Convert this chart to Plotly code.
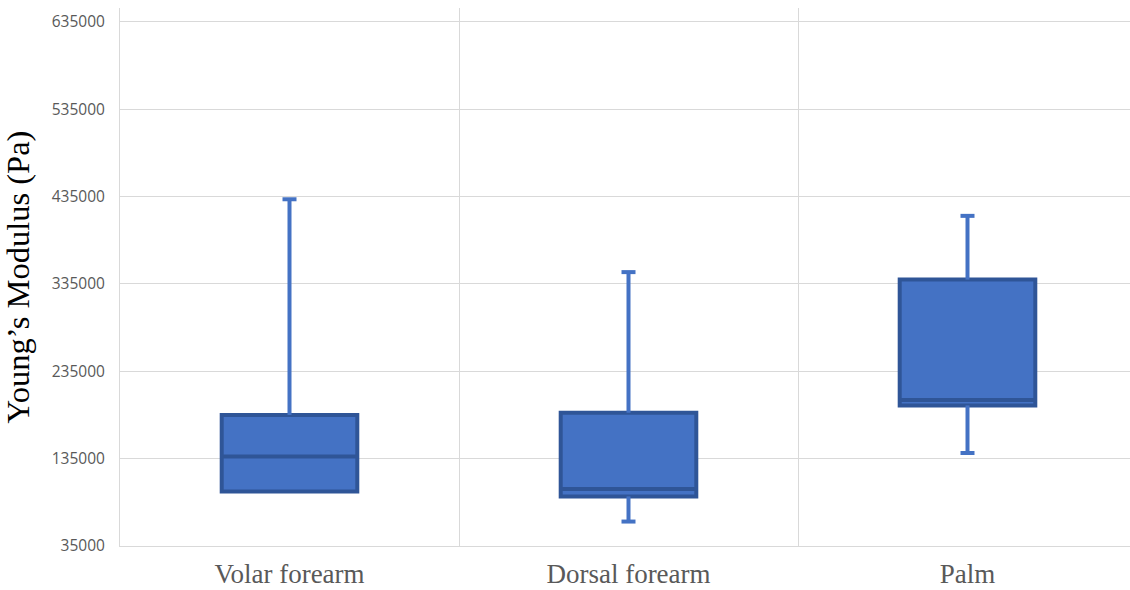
import plotly.graph_objects as go

categories = ["Volar forearm", "Dorsal forearm", "Palm"]
minimum = [97500, 63000, 141500]
q1 = [97500, 91800, 196000]
median = [137500, 100200, 202300]
q3 = [185000, 187700, 340000]
maximum = [432000, 348600, 413000]

y_ticks = [35000, 135000, 235000, 335000, 435000, 535000, 635000]

FILL = "#4472C4"
EDGE = "#2F5597"
WHISKER = "#4472C4"

fig = go.Figure()

fig.add_trace(go.Box(
    x=categories,
    q1=q1,
    median=median,
    q3=q3,
    lowerfence=q1,
    upperfence=q3,
    width=0.4,
    whiskerwidth=0,
    fillcolor=FILL,
    line=dict(color=EDGE, width=4),
    boxpoints=False,
    hoverinfo="skip",
    showlegend=False,
))

# whisker stems
stem_x, stem_y = [], []
for c, lo, a, b, hi in zip(categories, minimum, q1, q3, maximum):
    stem_x += [c, c, None]
    stem_y += [b, hi, None]
    if lo < a:
        stem_x += [c, c, None]
        stem_y += [a, lo, None]
fig.add_trace(go.Scatter(
    x=stem_x, y=stem_y, mode="lines",
    line=dict(color=WHISKER, width=4),
    hoverinfo="skip", showlegend=False,
))

# whisker caps
cap_x, cap_y = [], []
for c, lo, a, hi in zip(categories, minimum, q1, maximum):
    cap_x.append(c)
    cap_y.append(hi)
    if lo < a:
        cap_x.append(c)
        cap_y.append(lo)
fig.add_trace(go.Scatter(
    x=cap_x, y=cap_y, mode="markers",
    marker=dict(symbol="line-ew", size=10, line=dict(color=WHISKER, width=4)),
    hoverinfo="skip", showlegend=False,
))

fig.update_layout(
    width=1130, height=590,
    margin=dict(l=120, r=0, t=8, b=44),
    paper_bgcolor="white", plot_bgcolor="white",
    showlegend=False,
)

fig.update_xaxes(
    type="category",
    categoryorder="array", categoryarray=categories,
    range=[-0.5, 2.5 - 7 / 339.0],
    tickson="boundaries",
    showgrid=True, gridcolor="#d9d9d9", gridwidth=1,
    showline=True, linecolor="#d9d9d9", linewidth=1,
    ticks="",
    ticklabelstandoff=4,
    automargin=False,
    tickfont=dict(family="Liberation Serif", size=27, color="#595959"),
    zeroline=False,
)

fig.update_yaxes(
    range=[35000, 651000],
    tickvals=y_ticks,
    ticktext=[str(v) for v in y_ticks],
    showgrid=True, gridcolor="#d9d9d9", gridwidth=1,
    showline=True, linecolor="#d9d9d9", linewidth=1,
    zeroline=False,
    ticks="",
    ticklabelstandoff=11,
    automargin=False,
    tickfont=dict(family="Open Sans", size=15.5, color="#595959"),
    title=dict(text="Young’s Modulus (Pa)", standoff=13,
               font=dict(family="Liberation Serif", size=32.5, color="#000000")),
)

fig.write_html(
    "out.html",
    config={"displayModeBar": False},
    post_script=(
        "document.documentElement.style.margin='0';"
        "document.documentElement.style.overflow='hidden';"
        "document.body.style.margin='0';"
        "document.body.style.overflow='hidden';"
    ),
)
